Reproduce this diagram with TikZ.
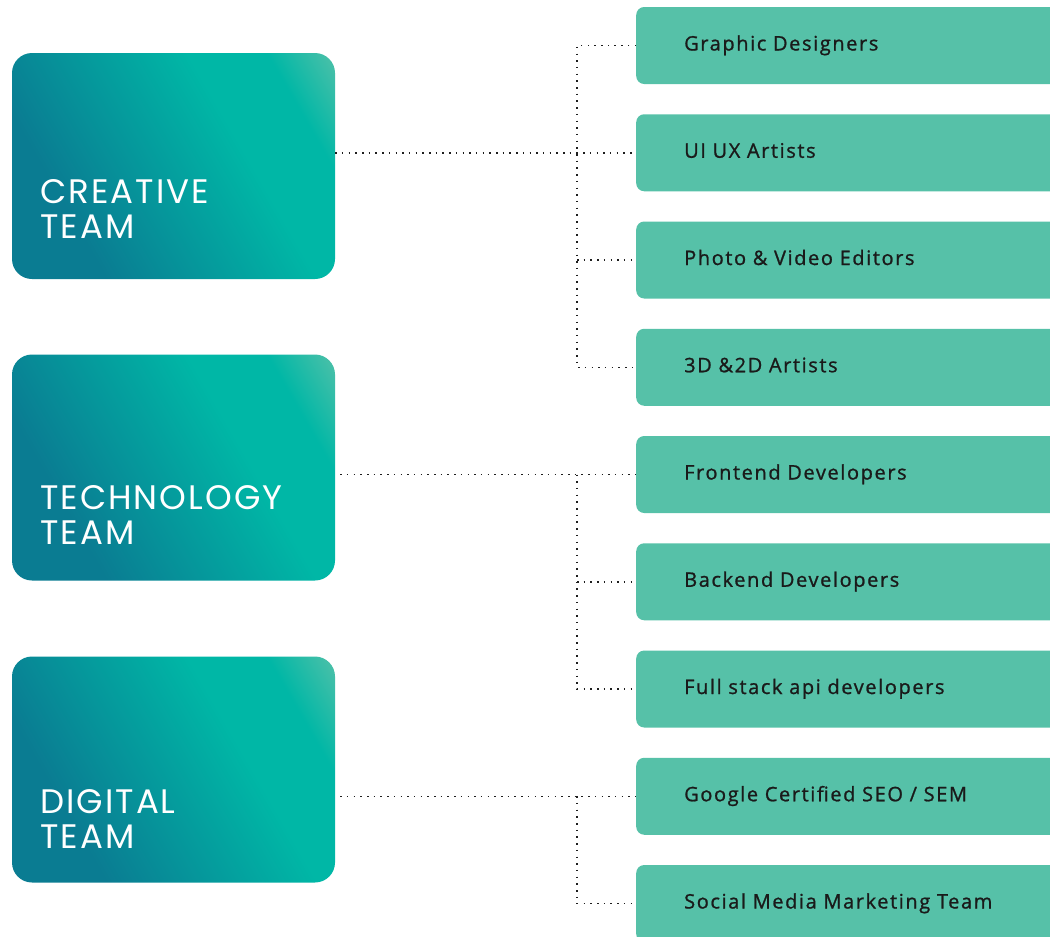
\documentclass[tikz,border=0pt]{standalone}
\usepackage{fontspec}
\newfontfamily\teamfont{Poppins}[LetterSpace=6]
\newfontfamily\itemfont{Open Sans}[LetterSpace=8, FakeBold=1]
\definecolor{teamdark}{HTML}{0A7C92}
\definecolor{teammid}{HTML}{00B7A6}
\definecolor{teamlight}{HTML}{5CC2A9}
\definecolor{itemfill}{HTML}{56C1A8}
\definecolor{itemtext}{HTML}{1A1A1A}
\definecolor{dotcol}{HTML}{1E1E1E}
\pgfdeclarehorizontalshading{teamshade}{100bp}{color(0bp)=(teamdark); color(30bp)=(teamdark); color(62bp)=(teammid); color(74bp)=(teammid); color(86bp)=(teamlight); color(100bp)=(teamlight)}

\begin{document}
\begin{tikzpicture}[x=1pt,y=-1pt,
  team/.style={rectangle, rounded corners=20pt, shade, shading=teamshade, shading angle=30,
    minimum width=323pt, minimum height=226pt, inner sep=0pt},
  teamtxt/.style={anchor=base west, inner sep=0pt, text=white, align=left,
    font=\teamfont\fontsize{34}{35}\selectfont},
  item/.style={rectangle, rounded corners=8pt, fill=itemfill, anchor=west,
    minimum width=480pt, minimum height=77pt, inner xsep=48pt, inner ysep=0pt,
    text height=14pt, text depth=4pt, text width=384pt, align=left, text=itemtext,
    font=\itemfont\fontsize{20}{22}\selectfont},
  dotline/.style={draw=dotcol, line width=1.5pt, dash pattern=on 1.5pt off 5.2pt}]
\useasboundingbox (0,0) rectangle (1050,937);
\clip (0,0) rectangle (1050,937);

% teams
\node[team] (creative) at (173.5,166) {};
\node[team] (technology) at (173.5,467.5) {};
\node[team] (digital) at (173.5,769.5) {};
\node[teamtxt] (creativetxt) at (40,238) {CREATIVE\\TEAM};
\node[teamtxt] (technologytxt) at (40,544) {TECHNOLOGY\\TEAM};
\node[teamtxt] (digitaltxt) at (40,848) {DIGITAL\\TEAM};

% roles
\node[item] (graphic) at (636,45.5) {Graphic Designers};
\node[item] (uiux) at (636,152.75) {UI UX Artists};
\node[item] (photo) at (636,260) {Photo \& Video Editors};
\node[item] (artists) at (636,367.25) {3D \&2D Artists};
\node[item] (frontend) at (636,474.5) {Frontend Developers};
\node[item] (backend) at (636,581.75) {Backend Developers};
\node[item] (fullstack) at (636,689) {Full stack api developers};
\node[item] (seo) at (636,796.25) {Google Certified SEO / SEM};
\node[item] (social) at (636,903.5) {Social Media Marketing Team};

\coordinate (creativebus) at (577,152.75);
\coordinate (technologybus) at (577,474.5);
\coordinate (digitalbus) at (577,796.25);

% creative links
\draw[dotline] (creative.east |- uiux.west) -- (uiux.west);
\draw[dotline] (graphic.west) -- (graphic.west -| creativebus) -- (artists.west -| creativebus) -- (artists.west);
\draw[dotline] (photo.west -| creativebus) -- (photo.west);

% technology links
\draw[dotline] ([xshift=5pt]technology.east |- frontend.west) -- (frontend.west);
\draw[dotline] (technologybus) -- (fullstack.west -| technologybus) -- (fullstack.west);
\draw[dotline] (backend.west -| technologybus) -- (backend.west);

% digital links
\draw[dotline] ([xshift=5pt]digital.east |- seo.west) -- (seo.west);
\draw[dotline] (digitalbus) -- (social.west -| digitalbus) -- (social.west);
\end{tikzpicture}
\end{document}
